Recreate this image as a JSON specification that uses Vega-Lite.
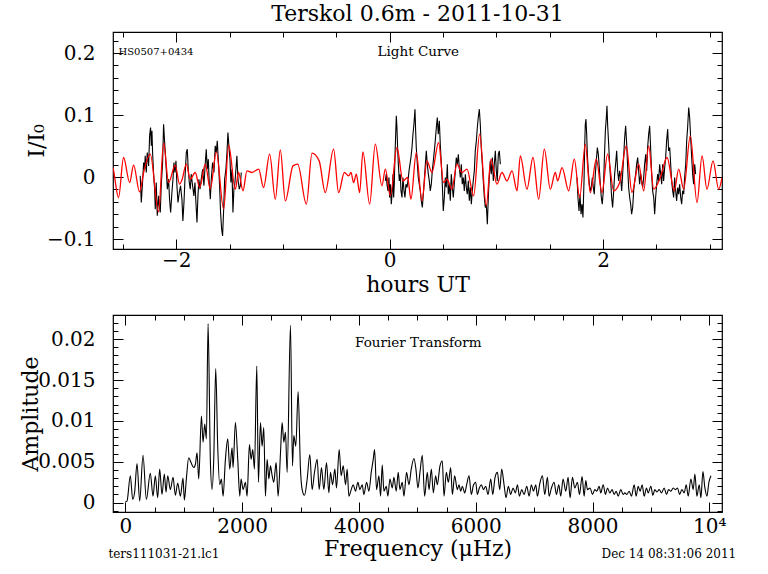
{
"$schema": "https://vega.github.io/schema/vega-lite/v6.json",
"padding": {"left": 18, "top": 1, "right": 10, "bottom": 5},
"background": "white",
"bounds": "flush",
"spacing": 66,
"config": {
  "font": "DejaVu Serif",
  "view": {"stroke": "black", "strokeWidth": 1.2},
  "axis": {"grid": false, "ticks": true, "tickColor": "black", "tickWidth": 1, "domain": false,
           "labelFont": "DejaVu Serif", "labelFontSize": 20, "labelColor": "black", "labelFlush": false, "labelOverlap": false,
           "titleFont": "DejaVu Serif", "titleFontSize": 22, "titleFontWeight": "normal", "titleColor": "black"}
},
"datasets": {
"lc": [
{"t":-2.337,"v":0.0019,"s":1},{"t":-2.327,"v":-0.0411,"s":1},{"t":-2.315,"v":-0.0089,"s":1},{"t":-2.305,"v":0.0234,"s":1},{"t":-2.296,"v":0.0126,"s":1},{"t":-2.290,"v":0.0341,"s":1},{"t":-2.280,"v":0.0073,"s":1},{"t":-2.271,"v":0.0395,"s":1},{"t":-2.258,"v":0.0180,"s":1},{"t":-2.249,"v":0.0664,"s":1},{"t":-2.240,"v":0.0798,"s":1},{"t":-2.233,"v":0.0503,"s":1},{"t":-2.227,"v":0.0745,"s":1},{"t":-2.221,"v":0.0395,"s":1},{"t":-2.212,"v":0.0073,"s":1},{"t":-2.202,"v":-0.0196,"s":1},{"t":-2.196,"v":-0.0519,"s":1},{"t":-2.187,"v":-0.0089,"s":1},{"t":-2.177,"v":-0.0626,"s":1},{"t":-2.165,"v":-0.0304,"s":1},{"t":-2.158,"v":-0.0465,"s":1},{"t":-2.149,"v":-0.0573,"s":1},{"t":-2.140,"v":-0.0142,"s":1},{"t":-2.127,"v":0.0234,"s":1},{"t":-2.118,"v":0.0852,"s":1},{"t":-2.108,"v":0.0556,"s":1},{"t":-2.102,"v":0.0395,"s":1},{"t":-2.093,"v":0.0126,"s":1},{"t":-2.083,"v":-0.0196,"s":1},{"t":-2.071,"v":-0.0035,"s":1},{"t":-2.062,"v":-0.0358,"s":1},{"t":-2.052,"v":-0.0573,"s":1},{"t":-2.040,"v":-0.0250,"s":1},{"t":-2.030,"v":-0.0035,"s":1},{"t":-2.021,"v":0.0234,"s":1},{"t":-2.012,"v":0.0073,"s":1},{"t":-2.002,"v":0.0261,"s":1},{"t":-1.993,"v":-0.0142,"s":1},{"t":-1.983,"v":-0.0411,"s":1},{"t":-1.971,"v":-0.0250,"s":1},{"t":-1.959,"v":-0.0142,"s":1},{"t":-1.946,"v":-0.0358,"s":1},{"t":-1.937,"v":-0.0707,"s":1},{"t":-1.927,"v":-0.0411,"s":1},{"t":-1.915,"v":0.0073,"s":1},{"t":-1.905,"v":0.0395,"s":1},{"t":-1.896,"v":0.0449,"s":1},{"t":-1.887,"v":0.0126,"s":1},{"t":-1.877,"v":-0.0089,"s":1},{"t":-1.868,"v":-0.0196,"s":1},{"t":-1.859,"v":0.0046,"s":1},{"t":-1.846,"v":-0.0142,"s":1},{"t":-1.834,"v":-0.0304,"s":1},{"t":-1.824,"v":-0.0089,"s":1},{"t":-1.815,"v":-0.0411,"s":1},{"t":-1.805,"v":-0.0734,"s":1},{"t":-1.796,"v":-0.0304,"s":1},{"t":-1.787,"v":-0.0035,"s":1},{"t":-1.777,"v":-0.0196,"s":1},{"t":-1.765,"v":-0.0035,"s":1},{"t":-1.752,"v":0.0126,"s":1},{"t":-1.740,"v":-0.0142,"s":1},{"t":-1.727,"v":0.0234,"s":1},{"t":-1.718,"v":0.0449,"s":1},{"t":-1.709,"v":0.0126,"s":1},{"t":-1.699,"v":0.0288,"s":1},{"t":-1.690,"v":-0.0089,"s":1},{"t":-1.680,"v":-0.0358,"s":1},{"t":-1.671,"v":-0.0035,"s":1},{"t":-1.659,"v":0.0234,"s":1},{"t":-1.646,"v":0.0073,"s":1},{"t":-1.634,"v":0.0503,"s":1},{"t":-1.624,"v":0.0395,"s":1},{"t":-1.615,"v":0.0583,"s":1},{"t":-1.602,"v":0.0180,"s":1},{"t":-1.593,"v":-0.0142,"s":1},{"t":-1.584,"v":-0.0573,"s":1},{"t":-1.574,"v":-0.0841,"s":1},{"t":-1.565,"v":-0.0949,"s":1},{"t":-1.555,"v":-0.0519,"s":1},{"t":-1.546,"v":-0.0035,"s":1},{"t":-1.534,"v":0.0126,"s":1},{"t":-1.524,"v":0.0395,"s":1},{"t":-1.515,"v":0.0718,"s":1},{"t":-1.506,"v":0.0503,"s":1},{"t":-1.496,"v":0.0288,"s":1},{"t":-1.487,"v":-0.0089,"s":1},{"t":-1.477,"v":0.0126,"s":1},{"t":-1.468,"v":-0.0573,"s":1},{"t":-1.459,"v":-0.0196,"s":1},{"t":-1.449,"v":-0.0089,"s":1},{"t":-1.440,"v":0.0126,"s":1},{"t":-1.431,"v":0.0341,"s":1},{"t":-1.421,"v":-0.0035,"s":1},{"t":-1.409,"v":-0.0196,"s":1},{"t":-1.399,"v":-0.0142,"s":1},{"t":-1.390,"v":0.0073,"s":1},
{"t":-0.040,"v":-0.0062,"s":2},{"t":-0.031,"v":0.0046,"s":2},{"t":-0.025,"v":-0.0116,"s":2},{"t":-0.015,"v":-0.0223,"s":2},{"t":-0.006,"v":-0.0008,"s":2},{"t":0.000,"v":-0.0331,"s":2},{"t":0.007,"v":-0.0116,"s":2},{"t":0.016,"v":-0.0438,"s":2},{"t":0.025,"v":-0.0223,"s":2},{"t":0.032,"v":0.0046,"s":2},{"t":0.038,"v":-0.0331,"s":2},{"t":0.044,"v":-0.0116,"s":2},{"t":0.050,"v":0.0315,"s":2},{"t":0.057,"v":0.0691,"s":2},{"t":0.063,"v":0.0987,"s":2},{"t":0.069,"v":0.0798,"s":2},{"t":0.075,"v":0.0476,"s":2},{"t":0.082,"v":0.0207,"s":2},{"t":0.091,"v":-0.0062,"s":2},{"t":0.100,"v":0.0046,"s":2},{"t":0.107,"v":-0.0223,"s":2},{"t":0.116,"v":-0.0331,"s":2},{"t":0.125,"v":-0.0008,"s":2},{"t":0.135,"v":-0.0223,"s":2},{"t":0.144,"v":-0.0331,"s":2},{"t":0.153,"v":-0.0116,"s":2},{"t":0.163,"v":-0.0169,"s":2},{"t":0.172,"v":-0.0062,"s":2},{"t":0.182,"v":0.0099,"s":2},{"t":0.191,"v":0.0207,"s":2},{"t":0.200,"v":0.0315,"s":2},{"t":0.210,"v":0.0476,"s":2},{"t":0.219,"v":0.0691,"s":2},{"t":0.228,"v":0.0852,"s":2},{"t":0.238,"v":0.1094,"s":2},{"t":0.244,"v":0.0745,"s":2},{"t":0.250,"v":0.0476,"s":2},{"t":0.260,"v":0.0207,"s":2},{"t":0.269,"v":-0.0008,"s":2},{"t":0.278,"v":-0.0116,"s":2},{"t":0.288,"v":-0.0223,"s":2},{"t":0.297,"v":-0.0384,"s":2},{"t":0.307,"v":-0.0492,"s":2},{"t":0.316,"v":-0.0277,"s":2},{"t":0.325,"v":-0.0062,"s":2},{"t":0.335,"v":0.0207,"s":2},{"t":0.344,"v":0.0422,"s":2},{"t":0.353,"v":0.0207,"s":2},{"t":0.363,"v":0.0046,"s":2},{"t":0.372,"v":-0.0062,"s":2},{"t":0.381,"v":-0.0223,"s":2},{"t":0.391,"v":-0.0116,"s":2},{"t":0.400,"v":0.0099,"s":2},{"t":0.410,"v":0.0261,"s":2},{"t":0.419,"v":0.0422,"s":2},{"t":0.428,"v":0.0583,"s":2},{"t":0.438,"v":0.0798,"s":2},{"t":0.447,"v":0.0960,"s":2},{"t":0.456,"v":0.0691,"s":2},{"t":0.466,"v":0.0906,"s":2},{"t":0.475,"v":0.0530,"s":2},{"t":0.485,"v":0.0207,"s":2},{"t":0.494,"v":-0.0116,"s":2},{"t":0.503,"v":-0.0546,"s":2},{"t":0.513,"v":-0.0331,"s":2},{"t":0.522,"v":-0.0008,"s":2},{"t":0.531,"v":-0.0169,"s":2},{"t":0.541,"v":0.0207,"s":2},{"t":0.550,"v":-0.0277,"s":2},{"t":0.560,"v":-0.0116,"s":2},{"t":0.569,"v":-0.0384,"s":2},{"t":0.578,"v":0.0046,"s":2},{"t":0.588,"v":-0.0169,"s":2},{"t":0.597,"v":-0.0331,"s":2},{"t":0.606,"v":-0.0116,"s":2},{"t":0.616,"v":0.0099,"s":2},{"t":0.625,"v":0.0315,"s":2},{"t":0.635,"v":0.0207,"s":2},{"t":0.644,"v":0.0368,"s":2},{"t":0.653,"v":0.0153,"s":2},{"t":0.663,"v":-0.0008,"s":2},{"t":0.672,"v":0.0207,"s":2},{"t":0.681,"v":-0.0116,"s":2},{"t":0.691,"v":-0.0008,"s":2},{"t":0.700,"v":-0.0223,"s":2},{"t":0.710,"v":0.0046,"s":2},{"t":0.719,"v":-0.0169,"s":2},{"t":0.728,"v":-0.0277,"s":2},{"t":0.738,"v":-0.0062,"s":2},{"t":0.747,"v":-0.0384,"s":2},{"t":0.756,"v":-0.0169,"s":2},{"t":0.766,"v":-0.0438,"s":2},{"t":0.775,"v":-0.0223,"s":2},{"t":0.784,"v":-0.0062,"s":2},{"t":0.794,"v":0.0099,"s":2},{"t":0.803,"v":0.0422,"s":2},{"t":0.813,"v":0.0583,"s":2},{"t":0.822,"v":0.0798,"s":2},{"t":0.831,"v":0.0960,"s":2},{"t":0.841,"v":0.1094,"s":2},{"t":0.850,"v":0.0852,"s":2},{"t":0.859,"v":0.0476,"s":2},{"t":0.869,"v":0.0207,"s":2},{"t":0.878,"v":-0.0062,"s":2},{"t":0.888,"v":-0.0331,"s":2},{"t":0.897,"v":-0.0492,"s":2},{"t":0.906,"v":-0.0438,"s":2},{"t":0.916,"v":-0.0761,"s":2},{"t":0.925,"v":-0.0331,"s":2},{"t":0.934,"v":-0.0008,"s":2},{"t":0.944,"v":0.0261,"s":2},{"t":0.953,"v":0.0046,"s":2},{"t":0.963,"v":0.0315,"s":2},{"t":0.972,"v":-0.0062,"s":2},{"t":0.981,"v":0.0207,"s":2},{"t":0.991,"v":0.0422,"s":2},{"t":1.000,"v":0.0099,"s":2},{"t":1.009,"v":-0.0062,"s":2},{"t":1.019,"v":0.0368,"s":2},{"t":1.028,"v":0.0422,"s":2},{"t":1.038,"v":0.0207,"s":2},
{"t":1.756,"v":-0.0008,"s":3},{"t":1.765,"v":-0.0331,"s":3},{"t":1.775,"v":-0.0546,"s":3},{"t":1.784,"v":-0.0277,"s":3},{"t":1.794,"v":-0.0599,"s":3},{"t":1.803,"v":-0.0438,"s":3},{"t":1.812,"v":-0.0653,"s":3},{"t":1.822,"v":-0.0062,"s":3},{"t":1.828,"v":0.0476,"s":3},{"t":1.834,"v":0.0852,"s":3},{"t":1.840,"v":0.0933,"s":3},{"t":1.847,"v":0.0691,"s":3},{"t":1.853,"v":0.0368,"s":3},{"t":1.862,"v":0.0099,"s":3},{"t":1.872,"v":-0.0116,"s":3},{"t":1.881,"v":-0.0223,"s":3},{"t":1.890,"v":-0.0169,"s":3},{"t":1.900,"v":-0.0008,"s":3},{"t":1.909,"v":-0.0169,"s":3},{"t":1.918,"v":-0.0277,"s":3},{"t":1.928,"v":0.0046,"s":3},{"t":1.937,"v":0.0261,"s":3},{"t":1.947,"v":0.0476,"s":3},{"t":1.956,"v":0.0368,"s":3},{"t":1.965,"v":0.0153,"s":3},{"t":1.975,"v":-0.0116,"s":3},{"t":1.984,"v":-0.0331,"s":3},{"t":1.993,"v":-0.0438,"s":3},{"t":2.003,"v":-0.0223,"s":3},{"t":2.012,"v":0.0261,"s":3},{"t":2.022,"v":0.0745,"s":3},{"t":2.031,"v":0.0960,"s":3},{"t":2.037,"v":0.1148,"s":3},{"t":2.043,"v":0.0852,"s":3},{"t":2.053,"v":0.0530,"s":3},{"t":2.062,"v":0.0207,"s":3},{"t":2.072,"v":-0.0062,"s":3},{"t":2.081,"v":-0.0331,"s":3},{"t":2.090,"v":-0.0492,"s":3},{"t":2.100,"v":-0.0223,"s":3},{"t":2.109,"v":0.0046,"s":3},{"t":2.118,"v":0.0207,"s":3},{"t":2.128,"v":0.0422,"s":3},{"t":2.137,"v":0.0099,"s":3},{"t":2.147,"v":-0.0062,"s":3},{"t":2.156,"v":0.0099,"s":3},{"t":2.165,"v":-0.0008,"s":3},{"t":2.175,"v":-0.0223,"s":3},{"t":2.184,"v":0.0046,"s":3},{"t":2.193,"v":0.0315,"s":3},{"t":2.203,"v":0.0637,"s":3},{"t":2.212,"v":0.0825,"s":3},{"t":2.222,"v":0.0530,"s":3},{"t":2.231,"v":0.0153,"s":3},{"t":2.240,"v":-0.0169,"s":3},{"t":2.250,"v":-0.0331,"s":3},{"t":2.259,"v":-0.0438,"s":3},{"t":2.268,"v":-0.0599,"s":3},{"t":2.278,"v":-0.0492,"s":3},{"t":2.287,"v":-0.0223,"s":3},{"t":2.297,"v":-0.0062,"s":3},{"t":2.306,"v":0.0046,"s":3},{"t":2.315,"v":0.0207,"s":3},{"t":2.325,"v":0.0315,"s":3},{"t":2.334,"v":0.0099,"s":3},{"t":2.343,"v":-0.0116,"s":3},{"t":2.353,"v":0.0046,"s":3},{"t":2.362,"v":-0.0062,"s":3},{"t":2.372,"v":-0.0169,"s":3},{"t":2.381,"v":-0.0008,"s":3},{"t":2.390,"v":0.0207,"s":3},{"t":2.400,"v":0.0368,"s":3},{"t":2.409,"v":0.0099,"s":3},{"t":2.418,"v":0.0476,"s":3},{"t":2.428,"v":0.0691,"s":3},{"t":2.437,"v":0.0825,"s":3},{"t":2.446,"v":0.0476,"s":3},{"t":2.456,"v":0.0046,"s":3},{"t":2.465,"v":-0.0223,"s":3},{"t":2.475,"v":-0.0331,"s":3},{"t":2.484,"v":-0.0599,"s":3},{"t":2.493,"v":-0.0331,"s":3},{"t":2.503,"v":-0.0116,"s":3},{"t":2.512,"v":0.0046,"s":3},{"t":2.521,"v":-0.0062,"s":3},{"t":2.531,"v":0.0207,"s":3},{"t":2.540,"v":0.0046,"s":3},{"t":2.550,"v":-0.0116,"s":3},{"t":2.559,"v":0.0207,"s":3},{"t":2.568,"v":-0.0062,"s":3},{"t":2.578,"v":0.0153,"s":3},{"t":2.587,"v":0.0315,"s":3},{"t":2.596,"v":0.0583,"s":3},{"t":2.606,"v":0.0772,"s":3},{"t":2.615,"v":0.0422,"s":3},{"t":2.625,"v":0.0476,"s":3},{"t":2.634,"v":0.0207,"s":3},{"t":2.643,"v":-0.0062,"s":3},{"t":2.653,"v":-0.0223,"s":3},{"t":2.662,"v":-0.0331,"s":3},{"t":2.671,"v":-0.0008,"s":3},{"t":2.681,"v":-0.0223,"s":3},{"t":2.690,"v":-0.0384,"s":3},{"t":2.700,"v":-0.0169,"s":3},{"t":2.709,"v":-0.0277,"s":3},{"t":2.718,"v":-0.0116,"s":3},{"t":2.728,"v":-0.0331,"s":3},{"t":2.737,"v":-0.0438,"s":3},{"t":2.746,"v":-0.0223,"s":3},{"t":2.756,"v":-0.0277,"s":3},{"t":2.765,"v":-0.0008,"s":3},{"t":2.775,"v":0.0207,"s":3},{"t":2.784,"v":0.0583,"s":3},{"t":2.793,"v":0.0798,"s":3},{"t":2.803,"v":0.1121,"s":3},{"t":2.812,"v":0.0960,"s":3},{"t":2.821,"v":0.0637,"s":3},{"t":2.831,"v":0.0315,"s":3},{"t":2.840,"v":0.0046,"s":3},{"t":2.849,"v":-0.0116,"s":3},{"t":2.859,"v":0.0207,"s":3},{"t":2.868,"v":0.0046,"s":3}
],
"model": [
{"t":-2.592,"v":0.0150},{"t":-2.586,"v":0.0099},{"t":-2.540,"v":-0.0331},{"t":-2.493,"v":0.0315},{"t":-2.436,"v":-0.0089},{"t":-2.399,"v":0.0191},{"t":-2.343,"v":-0.0239},{"t":-2.305,"v":0.0073},{"t":-2.243,"v":0.0368},{"t":-2.165,"v":-0.0562},{"t":-2.118,"v":0.0546},{"t":-2.071,"v":-0.0089},{"t":-2.009,"v":0.0191},{"t":-1.968,"v":-0.0116},{"t":-1.946,"v":-0.0046},{"t":-1.905,"v":0.0207},{"t":-1.868,"v":-0.0035},{"t":-1.821,"v":0.0073},{"t":-1.780,"v":-0.0169},{"t":-1.727,"v":0.0207},{"t":-1.680,"v":-0.0196},{"t":-1.624,"v":0.0406},{"t":-1.555,"v":-0.0519},{"t":-1.508,"v":0.0513},{"t":-1.446,"v":-0.0196},{"t":-1.415,"v":0.0073},{"t":-1.374,"v":-0.0223},{"t":-1.337,"v":0.0099},{"t":-1.290,"v":0.0073},{"t":-1.227,"v":0.0126},{"t":-1.181,"v":-0.0169},{"t":-1.124,"v":0.0368},{"t":-1.071,"v":-0.0358},{"t":-1.024,"v":0.0438},{"t":-0.977,"v":-0.0384},{"t":-0.905,"v":0.0180},{"t":-0.861,"v":0.0207},{"t":-0.780,"v":-0.0438},{"t":-0.727,"v":0.0384},{"t":-0.660,"v":0.0260},{"t":-0.603,"v":-0.0250},{"t":-0.525,"v":0.0449},{"t":-0.478,"v":-0.0250},{"t":-0.424,"v":0.0073},{"t":-0.384,"v":0.0019},{"t":-0.362,"v":0.0073},{"t":-0.337,"v":-0.0089},{"t":-0.312,"v":0.0046},{"t":-0.281,"v":-0.0250},{"t":-0.250,"v":0.0406},{"t":-0.187,"v":-0.0438},{"t":-0.134,"v":0.0530},{"t":-0.072,"v":-0.0142},{"t":-0.040,"v":0.0126},{"t":0.007,"v":-0.0304},{"t":0.069,"v":0.0476},{"t":0.125,"v":-0.0062},{"t":0.169,"v":-0.0008},{"t":0.200,"v":-0.0358},{"t":0.250,"v":0.0395},{"t":0.303,"v":-0.0384},{"t":0.350,"v":0.0261},{"t":0.397,"v":0.0073},{"t":0.459,"v":0.0556},{"t":0.506,"v":-0.0089},{"t":0.537,"v":-0.0035},{"t":0.584,"v":-0.0196},{"t":0.631,"v":0.0207},{"t":0.678,"v":0.0073},{"t":0.725,"v":0.0126},{"t":0.788,"v":-0.0304},{"t":0.844,"v":0.0691},{"t":0.906,"v":-0.0465},{"t":0.950,"v":0.0288},{"t":1.006,"v":-0.0116},{"t":1.053,"v":0.0073},{"t":1.100,"v":-0.0062},{"t":1.147,"v":0.0099},{"t":1.194,"v":-0.0223},{"t":1.225,"v":0.0341},{"t":1.287,"v":-0.0196},{"t":1.344,"v":0.0315},{"t":1.397,"v":-0.0358},{"t":1.450,"v":0.0449},{"t":1.506,"v":-0.0196},{"t":1.553,"v":0.0073},{"t":1.575,"v":-0.0062},{"t":1.616,"v":0.0153},{"t":1.678,"v":-0.0223},{"t":1.731,"v":0.0288},{"t":1.781,"v":-0.0331},{"t":1.834,"v":0.0530},{"t":1.881,"v":-0.0250},{"t":1.937,"v":0.0288},{"t":1.990,"v":-0.0250},{"t":2.043,"v":0.0368},{"t":2.100,"v":-0.0223},{"t":2.156,"v":-0.0089},{"t":2.218,"v":0.0503},{"t":2.271,"v":-0.0250},{"t":2.334,"v":0.0207},{"t":2.381,"v":-0.0223},{"t":2.428,"v":0.0503},{"t":2.475,"v":-0.0196},{"t":2.537,"v":-0.0008},{"t":2.600,"v":0.0315},{"t":2.668,"v":-0.0223},{"t":2.709,"v":0.0126},{"t":2.756,"v":-0.0196},{"t":2.818,"v":0.0664},{"t":2.881,"v":-0.0411},{"t":2.928,"v":0.0341},{"t":2.974,"v":-0.0196},{"t":3.031,"v":0.0261},{"t":3.084,"v":-0.0196},{"t":3.115,"v":-0.0008}
],
"ft": [
{"f":0,"a":0.0001},{"f":29,"a":0.0002},{"f":86,"a":0.0033},{"f":126,"a":0.0004},{"f":160,"a":0.0013},{"f":200,"a":0.0048},{"f":246,"a":0.0002},{"f":303,"a":0.0058},{"f":360,"a":0.0004},{"f":428,"a":0.0036},{"f":474,"a":0.0008},{"f":514,"a":0.0033},{"f":554,"a":0.0006},{"f":588,"a":0.0041},{"f":628,"a":0.0010},{"f":668,"a":0.0035},{"f":697,"a":0.0013},{"f":726,"a":0.0033},{"f":771,"a":0.0016},{"f":817,"a":0.0031},{"f":857,"a":0.0009},{"f":897,"a":0.0024},{"f":943,"a":0.0008},{"f":988,"a":0.0030},{"f":1011,"a":0.0003},{"f":1045,"a":0.0029},{"f":1085,"a":0.0055},{"f":1125,"a":0.0049},{"f":1171,"a":0.0043},{"f":1200,"a":0.0047},{"f":1228,"a":0.0061},{"f":1257,"a":0.0029},{"f":1303,"a":0.0106},{"f":1331,"a":0.0074},{"f":1360,"a":0.0096},{"f":1388,"a":0.0078},{"f":1417,"a":0.0219},{"f":1457,"a":0.0049},{"f":1485,"a":0.0016},{"f":1514,"a":0.0053},{"f":1548,"a":0.0164},{"f":1582,"a":0.0069},{"f":1617,"a":0.0022},{"f":1645,"a":0.0029},{"f":1674,"a":0.0008},{"f":1714,"a":0.0053},{"f":1754,"a":0.0078},{"f":1788,"a":0.0041},{"f":1828,"a":0.0067},{"f":1845,"a":0.0043},{"f":1885,"a":0.0098},{"f":1925,"a":0.0053},{"f":1960,"a":0.0008},{"f":1982,"a":0.0029},{"f":2017,"a":0.0016},{"f":2057,"a":0.0025},{"f":2085,"a":0.0008},{"f":2125,"a":0.0071},{"f":2154,"a":0.0053},{"f":2182,"a":0.0065},{"f":2211,"a":0.0041},{"f":2251,"a":0.0167},{"f":2279,"a":0.0025},{"f":2314,"a":0.0098},{"f":2342,"a":0.0069},{"f":2371,"a":0.0092},{"f":2399,"a":0.0008},{"f":2428,"a":0.0053},{"f":2457,"a":0.0029},{"f":2485,"a":0.0045},{"f":2514,"a":0.0033},{"f":2542,"a":0.0025},{"f":2582,"a":0.0049},{"f":2617,"a":0.0008},{"f":2657,"a":0.0061},{"f":2685,"a":0.0098},{"f":2714,"a":0.0074},{"f":2742,"a":0.0086},{"f":2771,"a":0.0037},{"f":2828,"a":0.0217},{"f":2862,"a":0.0045},{"f":2885,"a":0.0082},{"f":2919,"a":0.0069},{"f":2959,"a":0.0136},{"f":2999,"a":0.0041},{"f":3028,"a":0.0016},{"f":3068,"a":0.0009},{"f":3114,"a":0.0029},{"f":3159,"a":0.0059},{"f":3199,"a":0.0016},{"f":3239,"a":0.0037},{"f":3285,"a":0.0053},{"f":3319,"a":0.0016},{"f":3359,"a":0.0043},{"f":3399,"a":0.0016},{"f":3445,"a":0.0049},{"f":3485,"a":0.0012},{"f":3513,"a":0.0037},{"f":3548,"a":0.0022},{"f":3588,"a":0.0041},{"f":3616,"a":0.0018},{"f":3662,"a":0.0065},{"f":3696,"a":0.0033},{"f":3731,"a":0.0045},{"f":3771,"a":0.0022},{"f":3799,"a":0.0041},{"f":3828,"a":0.0008},{"f":3868,"a":0.0016},{"f":3902,"a":0.0022},{"f":3942,"a":0.0014},{"f":3982,"a":0.0025},{"f":4016,"a":0.0016},{"f":4056,"a":0.0022},{"f":4085,"a":0.0010},{"f":4131,"a":0.0025},{"f":4171,"a":0.0014},{"f":4211,"a":0.0037},{"f":4245,"a":0.0053},{"f":4268,"a":0.0065},{"f":4302,"a":0.0016},{"f":4342,"a":0.0033},{"f":4371,"a":0.0008},{"f":4399,"a":0.0046},{"f":4428,"a":0.0014},{"f":4468,"a":0.0020},{"f":4496,"a":0.0008},{"f":4531,"a":0.0029},{"f":4571,"a":0.0018},{"f":4599,"a":0.0031},{"f":4639,"a":0.0014},{"f":4673,"a":0.0037},{"f":4702,"a":0.0016},{"f":4742,"a":0.0025},{"f":4771,"a":0.0008},{"f":4816,"a":0.0037},{"f":4856,"a":0.0022},{"f":4896,"a":0.0041},{"f":4942,"a":0.0054},{"f":4976,"a":0.0041},{"f":5010,"a":0.0018},{"f":5045,"a":0.0037},{"f":5085,"a":0.0058},{"f":5125,"a":0.0008},{"f":5171,"a":0.0037},{"f":5200,"a":0.0016},{"f":5240,"a":0.0041},{"f":5274,"a":0.0012},{"f":5314,"a":0.0033},{"f":5342,"a":0.0022},{"f":5388,"a":0.0045},{"f":5428,"a":0.0051},{"f":5457,"a":0.0008},{"f":5497,"a":0.0037},{"f":5531,"a":0.0025},{"f":5571,"a":0.0043},{"f":5600,"a":0.0010},{"f":5639,"a":0.0033},{"f":5685,"a":0.0016},{"f":5714,"a":0.0022},{"f":5742,"a":0.0014},{"f":5771,"a":0.0020},{"f":5811,"a":0.0012},{"f":5845,"a":0.0022},{"f":5885,"a":0.0033},{"f":5925,"a":0.0010},{"f":5959,"a":0.0021},{"f":6000,"a":0.0025},{"f":6028,"a":0.0010},{"f":6062,"a":0.0018},{"f":6097,"a":0.0022},{"f":6131,"a":0.0016},{"f":6171,"a":0.0020},{"f":6211,"a":0.0010},{"f":6257,"a":0.0029},{"f":6291,"a":0.0010},{"f":6331,"a":0.0031},{"f":6371,"a":0.0037},{"f":6411,"a":0.0016},{"f":6445,"a":0.0041},{"f":6485,"a":0.0022},{"f":6519,"a":0.0006},{"f":6559,"a":0.0020},{"f":6599,"a":0.0010},{"f":6639,"a":0.0018},{"f":6679,"a":0.0012},{"f":6714,"a":0.0022},{"f":6748,"a":0.0008},{"f":6788,"a":0.0016},{"f":6828,"a":0.0010},{"f":6874,"a":0.0020},{"f":6914,"a":0.0008},{"f":6953,"a":0.0022},{"f":6988,"a":0.0014},{"f":7028,"a":0.0022},{"f":7056,"a":0.0008},{"f":7102,"a":0.0025},{"f":7142,"a":0.0033},{"f":7182,"a":0.0010},{"f":7228,"a":0.0031},{"f":7256,"a":0.0008},{"f":7296,"a":0.0018},{"f":7342,"a":0.0025},{"f":7382,"a":0.0010},{"f":7422,"a":0.0022},{"f":7456,"a":0.0008},{"f":7496,"a":0.0029},{"f":7542,"a":0.0014},{"f":7582,"a":0.0031},{"f":7616,"a":0.0006},{"f":7656,"a":0.0031},{"f":7696,"a":0.0018},{"f":7742,"a":0.0025},{"f":7776,"a":0.0010},{"f":7822,"a":0.0032},{"f":7856,"a":0.0008},{"f":7885,"a":0.0027},{"f":7913,"a":0.0016},{"f":7959,"a":0.0018},{"f":7999,"a":0.0010},{"f":8039,"a":0.0016},{"f":8073,"a":0.0014},{"f":8113,"a":0.0020},{"f":8142,"a":0.0012},{"f":8182,"a":0.0022},{"f":8222,"a":0.0010},{"f":8256,"a":0.0018},{"f":8296,"a":0.0012},{"f":8336,"a":0.0016},{"f":8370,"a":0.0010},{"f":8405,"a":0.0014},{"f":8439,"a":0.0008},{"f":8485,"a":0.0016},{"f":8525,"a":0.0010},{"f":8553,"a":0.0012},{"f":8587,"a":0.0010},{"f":8627,"a":0.0014},{"f":8667,"a":0.0008},{"f":8713,"a":0.0022},{"f":8747,"a":0.0008},{"f":8782,"a":0.0020},{"f":8816,"a":0.0014},{"f":8850,"a":0.0022},{"f":8884,"a":0.0008},{"f":8924,"a":0.0018},{"f":8953,"a":0.0012},{"f":8999,"a":0.0020},{"f":9033,"a":0.0009},{"f":9067,"a":0.0016},{"f":9102,"a":0.0013},{"f":9142,"a":0.0016},{"f":9182,"a":0.0012},{"f":9227,"a":0.0018},{"f":9267,"a":0.0010},{"f":9302,"a":0.0016},{"f":9342,"a":0.0014},{"f":9382,"a":0.0018},{"f":9416,"a":0.0016},{"f":9456,"a":0.0018},{"f":9490,"a":0.0010},{"f":9530,"a":0.0016},{"f":9570,"a":0.0012},{"f":9604,"a":0.0022},{"f":9639,"a":0.0008},{"f":9684,"a":0.0029},{"f":9724,"a":0.0016},{"f":9753,"a":0.0035},{"f":9787,"a":0.0008},{"f":9827,"a":0.0022},{"f":9856,"a":0.0006},{"f":9890,"a":0.0038},{"f":9924,"a":0.0018},{"f":9959,"a":0.0008},{"f":9993,"a":0.0025},{"f":10028,"a":0.0033}
]
},
"vconcat": [
{
  "width": 609, "height": 217,
  "title": {"text": "Terskol 0.6m - 2011-10-31", "fontSize": 22, "font": "DejaVu Serif", "fontWeight": "normal", "color": "black", "anchor": "middle", "frame": "group", "offset": 6},
  "layer": [
    {"data": {"name": "lc"}, "mark": {"type": "line", "color": "black", "strokeWidth": 1.1, "clip": true},
     "encoding": {
       "x": {"field": "t", "type": "quantitative", "scale": {"domain": [-2.592, 3.115], "nice": false, "zero": false},
             "axis": {"orient": "bottom", "values": [-2, 0, 2], "format": "~g", "title": "hours UT", "tickSize": -10, "labelPadding": 11, "titlePadding": 4}},
       "y": {"field": "v", "type": "quantitative", "scale": {"domain": [-0.1161, 0.2339], "nice": false, "zero": false},
             "axis": {"orient": "left", "values": [-0.1, 0, 0.1, 0.2], "format": "~g", "title": "I/I₀", "tickSize": -10, "labelPadding": 28, "minExtent": 55, "maxExtent": 55, "titlePadding": 10}},
       "detail": {"field": "s", "type": "nominal"}
     }},
    {"data": {"name": "model"}, "mark": {"type": "line", "color": "#ff0000", "strokeWidth": 1.3, "interpolate": "monotone", "clip": true},
     "encoding": {
       "x": {"field": "t", "type": "quantitative", "scale": {"domain": [-2.592, 3.115], "nice": false, "zero": false},
             "axis": {"orient": "top", "values": [-2.5, -2, -1.5, -1, -0.5, 0, 0.5, 1, 1.5, 2, 2.5, 3], "labels": false, "title": null, "tickSize": -5}},
       "y": {"field": "v", "type": "quantitative", "scale": {"domain": [-0.1161, 0.2339], "nice": false, "zero": false},
             "axis": {"orient": "right", "values": [-0.1, -0.08, -0.06, -0.04, -0.02, 0, 0.02, 0.04, 0.06, 0.08, 0.1, 0.12, 0.14, 0.16, 0.18, 0.2, 0.22], "labels": false, "title": null, "tickSize": -5}}
     }},
    {"data": {"values": [{"label": "HS0507+0434"}]}, "mark": {"type": "text", "align": "left", "baseline": "middle", "fontSize": 10, "font": "DejaVu Serif", "color": "black"},
     "encoding": {
       "x": {"datum": -2.54, "type": "quantitative", "axis": {"orient": "bottom", "values": [-2.5, -2, -1.5, -1, -0.5, 0, 0.5, 1, 1.5, 2, 2.5, 3], "labels": false, "title": null, "tickSize": -5}},
       "y": {"datum": 0.201, "type": "quantitative", "axis": {"orient": "left", "values": [-0.1, -0.08, -0.06, -0.04, -0.02, 0, 0.02, 0.04, 0.06, 0.08, 0.1, 0.12, 0.14, 0.16, 0.18, 0.2, 0.22], "labels": false, "title": null, "tickSize": -5}},
       "text": {"field": "label"}}},
    {"data": {"values": [{"label": "Light Curve"}]}, "mark": {"type": "text", "align": "center", "baseline": "middle", "fontSize": 13.5, "font": "DejaVu Serif", "color": "black"},
     "encoding": {
       "x": {"datum": 0.269, "type": "quantitative", "axis": {"orient": "top", "values": [-2, 0, 2], "labels": false, "title": null, "tickSize": -10}},
       "y": {"datum": 0.201, "type": "quantitative", "axis": {"orient": "right", "values": [-0.1, 0, 0.1, 0.2], "labels": false, "title": null, "tickSize": -10}},
       "text": {"field": "label"}}}
  ],
  "resolve": {"axis": {"x": "independent", "y": "independent"}}
},
{
  "width": 609, "height": 197,
  "layer": [
    {"data": {"name": "ft"}, "mark": {"type": "line", "color": "black", "strokeWidth": 1.1, "interpolate": "monotone", "clip": true},
     "encoding": {
       "x": {"field": "f", "type": "quantitative", "scale": {"domain": [-211, 10217], "nice": false, "zero": false},
             "axis": {"orient": "bottom", "values": [0, 2000, 4000, 6000, 8000, 10000], "format": "d", "labelExpr": "datum.value == 10000 ? '10⁴' : datum.label", "title": "Frequency (μHz)", "tickSize": -10, "labelPadding": 14, "titlePadding": 2}},
       "y": {"field": "a", "type": "quantitative", "scale": {"domain": [-0.00114, 0.02295], "nice": false, "zero": false},
             "axis": {"orient": "left", "values": [0, 0.005, 0.01, 0.015, 0.02], "format": "~g", "title": "Amplitude", "tickSize": -10, "labelPadding": 28, "minExtent": 55, "maxExtent": 55, "titlePadding": 16}}
     }},
    {"data": {"values": [{"label": "Fourier Transform"}]}, "mark": {"type": "text", "align": "center", "baseline": "middle", "fontSize": 13.5, "font": "DejaVu Serif", "color": "black"},
     "encoding": {
       "x": {"datum": 5016, "type": "quantitative", "axis": {"orient": "top", "values": [0, 500, 1000, 1500, 2000, 2500, 3000, 3500, 4000, 4500, 5000, 5500, 6000, 6500, 7000, 7500, 8000, 8500, 9000, 9500, 10000], "labels": false, "title": null, "tickSize": -5}},
       "y": {"datum": 0.01949, "type": "quantitative", "axis": {"orient": "right", "values": [-0.001, 0, 0.001, 0.002, 0.003, 0.004, 0.005, 0.006, 0.007, 0.008, 0.009, 0.01, 0.011, 0.012, 0.013, 0.014, 0.015, 0.016, 0.017, 0.018, 0.019, 0.02, 0.021, 0.022], "labels": false, "title": null, "tickSize": -5}},
       "text": {"field": "label"}
     }},
    {"data": {"values": [{"label": "ters111031-21.lc1"}]}, "mark": {"type": "text", "align": "left", "baseline": "middle", "fontSize": 12, "font": "DejaVu Serif", "color": "black"},
     "encoding": {
       "x": {"datum": -290, "type": "quantitative", "axis": {"orient": "bottom", "values": [0, 500, 1000, 1500, 2000, 2500, 3000, 3500, 4000, 4500, 5000, 5500, 6000, 6500, 7000, 7500, 8000, 8500, 9000, 9500, 10000], "labels": false, "title": null, "tickSize": -5}},
       "y": {"datum": -0.00625, "type": "quantitative", "axis": {"orient": "left", "values": [-0.001, 0, 0.001, 0.002, 0.003, 0.004, 0.005, 0.006, 0.007, 0.008, 0.009, 0.01, 0.011, 0.012, 0.013, 0.014, 0.015, 0.016, 0.017, 0.018, 0.019, 0.02, 0.021, 0.022], "labels": false, "title": null, "tickSize": -5}},
       "text": {"field": "label"}}},
    {"data": {"values": [{"label": "Dec 14 08:31:06 2011"}]}, "mark": {"type": "text", "align": "right", "baseline": "middle", "fontSize": 12, "font": "DejaVu Serif", "color": "black"},
     "encoding": {
       "x": {"datum": 10460, "type": "quantitative", "axis": {"orient": "top", "values": [0, 2000, 4000, 6000, 8000, 10000], "labels": false, "title": null, "tickSize": -10}},
       "y": {"datum": -0.00625, "type": "quantitative", "axis": {"orient": "right", "values": [0, 0.005, 0.01, 0.015, 0.02], "labels": false, "title": null, "tickSize": -10}},
       "text": {"field": "label"}}}
  ],
  "resolve": {"axis": {"x": "independent", "y": "independent"}}
}
]
}
